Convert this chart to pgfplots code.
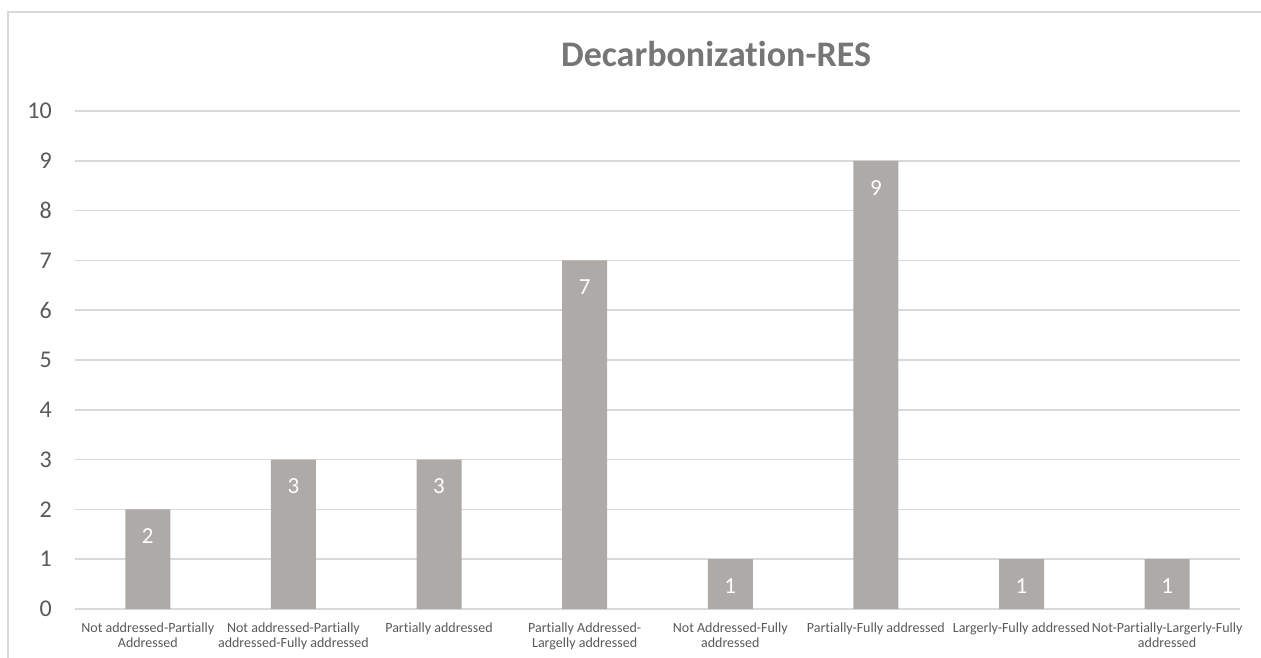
\documentclass[border=0pt]{standalone}
\usepackage{fontspec}
\setmainfont{Carlito}[Ligatures={NoCommon}]
\usepackage{pgfplots}
\pgfplotsset{compat=1.18}
\definecolor{barc}{RGB}{174,170,168}
\definecolor{gridc}{RGB}{217,217,217}
\definecolor{txtc}{RGB}{89,89,89}
\definecolor{titc}{RGB}{118,118,118}

\begin{document}
\begin{tikzpicture}[x=1pt,y=1pt]
% page = 1261 x 657 px, plot area lower left at (75,609) px
\path[use as bounding box] (-75,-48) rectangle (1186,609);
\draw[gridc, line width=1.5pt] (-67,-70) -- (-67,597) -- (1200,597);
\node[titc, font=\fontsize{36}{40}\selectfont\bfseries, anchor=base] at (641,542) {Decarbonization-RES};
\begin{axis}[
    at={(0,0)}, anchor=south west,
    scale only axis, width=1165pt, height=498pt,
    xmin=-0.5, xmax=7.5, ymin=0, ymax=10,
    ytick={0,...,10}, xtick={0,...,7},
    xticklabels={
        {Not addressed-Partially\\Addressed},
        {Not addressed-Partially\\addressed-Fully addressed},
        {Partially addressed},
        {Partially Addressed-\\Largelly addressed},
        {Not Addressed-Fully\\addressed},
        {Partially-Fully addressed},
        {Largerly-Fully addressed},
        {Not-Partially-Largerly-Fully\\addressed}},
    axis line style={draw=none},
    tick style={draw=none},
    ymajorgrids,
    major grid style={gridc, line width=1.5pt},
    /pgf/number format/assume math mode=true,
    yticklabel style={txtc, font=\fontsize{24}{26}\selectfont, anchor=east, inner sep=0pt, xshift=-23pt},
    xticklabel style={txtc, font=\fontsize{14}{15}\selectfont, align=center, anchor=north, inner sep=0pt, yshift=-9pt},
    ybar, bar width=45pt,
    nodes near coords,
    every node near coord/.append style={white, font=\fontsize{23}{26}\selectfont, anchor=center, yshift=-27pt},
]
\addplot[fill=barc, draw=none] coordinates {
    (0,2) (1,3) (2,3) (3,7) (4,1) (5,9) (6,1) (7,1)
};
\end{axis}
\end{tikzpicture}
\end{document}
